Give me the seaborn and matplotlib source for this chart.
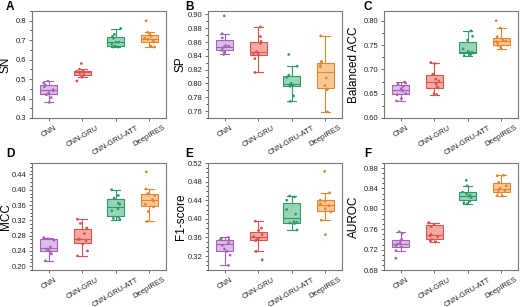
import matplotlib
matplotlib.use('Agg')
import matplotlib.pyplot as plt
import numpy as np
import pandas as pd
import seaborn as sns
from matplotlib.ticker import MultipleLocator, AutoMinorLocator, FormatStrFormatter

models = ['CNN', 'CNN-GRU', 'CNN-GRU-ATT', 'DeepIRES']

sn = [
    [0.38, 0.405, 0.42, 0.43, 0.44, 0.445, 0.46, 0.47, 0.48, 0.49],
    [0.49, 0.51, 0.52, 0.53, 0.535, 0.535, 0.54, 0.545, 0.55, 0.58],
    [0.665, 0.665, 0.67, 0.68, 0.69, 0.69, 0.71, 0.72, 0.73, 0.76],
    [0.665, 0.67, 0.69, 0.70, 0.705, 0.71, 0.72, 0.73, 0.74, 0.80],
]
sp = [
    [0.842, 0.845, 0.848, 0.851, 0.853, 0.854, 0.855, 0.866, 0.872, 0.898],
    [0.816, 0.836, 0.841, 0.842, 0.844, 0.846, 0.858, 0.861, 0.868, 0.882],
    [0.774, 0.782, 0.796, 0.797, 0.798, 0.800, 0.809, 0.812, 0.825, 0.842],
    [0.759, 0.791, 0.792, 0.797, 0.808, 0.824, 0.826, 0.830, 0.832, 0.869],
]
bacc = [
    [0.635, 0.640, 0.648, 0.650, 0.656, 0.660, 0.665, 0.670, 0.672, 0.674],
    [0.648, 0.650, 0.662, 0.664, 0.670, 0.676, 0.680, 0.690, 0.712, 0.714],
    [0.728, 0.730, 0.733, 0.734, 0.735, 0.737, 0.742, 0.760, 0.768, 0.779],
    [0.742, 0.745, 0.749, 0.755, 0.757, 0.758, 0.760, 0.767, 0.785, 0.800],
]
mcc = [
    [0.214, 0.232, 0.238, 0.242, 0.245, 0.250, 0.268, 0.272, 0.274, 0.274],
    [0.227, 0.240, 0.258, 0.266, 0.270, 0.271, 0.285, 0.300, 0.312, 0.323],
    [0.322, 0.325, 0.328, 0.345, 0.350, 0.362, 0.365, 0.378, 0.385, 0.400],
    [0.317, 0.343, 0.355, 0.362, 0.370, 0.374, 0.385, 0.390, 0.402, 0.447],
]
f1 = [
    [0.300, 0.322, 0.330, 0.335, 0.343, 0.348, 0.354, 0.355, 0.358, 0.360],
    [0.312, 0.330, 0.353, 0.356, 0.358, 0.362, 0.366, 0.375, 0.380, 0.395],
    [0.376, 0.390, 0.391, 0.393, 0.394, 0.410, 0.420, 0.440, 0.447, 0.449],
    [0.366, 0.397, 0.415, 0.422, 0.428, 0.432, 0.438, 0.440, 0.456, 0.502],
]
auroc = [
    [0.703, 0.718, 0.725, 0.728, 0.731, 0.733, 0.738, 0.740, 0.752, 0.755],
    [0.735, 0.737, 0.740, 0.745, 0.747, 0.750, 0.765, 0.770, 0.772, 0.773],
    [0.810, 0.812, 0.815, 0.822, 0.825, 0.827, 0.830, 0.833, 0.845, 0.856],
    [0.825, 0.826, 0.832, 0.836, 0.837, 0.840, 0.845, 0.852, 0.865, 0.866],
]

# letter, y label, data, y range, major step, minor divisions, format
panels = [
    ('A', 'SN', sn, (0.3, 0.85), 0.1, 2, '%.1f'),
    ('B', 'SP', sp, (0.75, 0.905), 0.02, 2, '%.2f'),
    ('C', 'Balanced ACC', bacc, (0.60, 0.82), 0.05, 2, '%.2f'),
    ('D', 'MCC', mcc, (0.19, 0.47), 0.04, 4, '%.2f'),
    ('E', 'F1-score', f1, (0.29, 0.52), 0.04, 4, '%.2f'),
    ('F', 'AUROC', auroc, (0.68, 0.89), 0.04, 4, '%.2f'),
]

fills = ['#dcbde6', '#f3aaa0', '#98d4b6', '#f9c896']
edges = ['#a463b8', '#d9534f', '#2f9a67', '#e3862f']

plt.rcParams['font.family'] = ['Liberation Sans', 'DejaVu Sans']
fig = plt.figure(figsize=(5.2, 3.07), dpi=100)

W, H = 520.0, 307.0
lefts = [32, 208, 384]      # px
tops = [11, 163]            # px
aw, ah = 134, 107
letter_x = [6, 185, 364]
letter_y = [10, 157]
ylab_x = [-0.15, -0.16, -0.18]

np.random.seed(3)
for i, (lab, name, vals, ylim, step, nminor, fmt) in enumerate(panels):
    c, r = i % 3, i // 3
    ax = fig.add_axes([lefts[c] / W, 1 - (tops[r] + ah) / H, aw / W, ah / H])
    df = pd.DataFrame({'Model': np.repeat(models, [len(v) for v in vals]),
                       'v': np.concatenate(vals)})
    sns.boxplot(data=df, x='Model', y='v', hue='Model', order=models,
                palette=fills, width=0.52, showfliers=False, linewidth=0.8,
                saturation=1, ax=ax, legend=False)
    for j, patch in enumerate(ax.patches):
        patch.set_edgecolor(edges[j])
    lines = ax.lines
    per = len(lines) // 4
    for j in range(4):
        for ln in lines[j * per:(j + 1) * per]:
            ln.set_color(edges[j])
    sns.stripplot(data=df, x='Model', y='v', hue='Model', order=models,
                  palette=edges, size=2.0, jitter=0.17, ax=ax, legend=False)
    ax.set_ylim(*ylim)
    ax.set_xlim(-0.5, 3.5)
    ax.yaxis.set_major_locator(MultipleLocator(step))
    ax.yaxis.set_minor_locator(AutoMinorLocator(nminor))
    ax.yaxis.set_major_formatter(FormatStrFormatter(fmt))
    ax.set_xlabel('')
    ax.set_ylabel(name, fontsize=8.5)
    ax.yaxis.set_label_coords(ylab_x[c], 0.5)
    ax.tick_params(axis='both', labelsize=5.5, length=2.5, width=0.6,
                   pad=1.5, color='#555555', labelcolor='#222222')
    ax.tick_params(axis='y', which='minor', length=1.5, width=0.5)
    ax.set_xticks(range(4))
    ax.set_xticklabels(models, rotation=30, ha='center', fontsize=5.5)
    ax.tick_params(axis='x', pad=2)
    for s in ax.spines.values():
        s.set_color('#777777')
        s.set_linewidth(0.8)
    fig.text(letter_x[c] / W, 1 - letter_y[r] / H, lab,
             fontsize=8.5, fontweight='bold', va='baseline')

fig.savefig('out.png', dpi=100)
